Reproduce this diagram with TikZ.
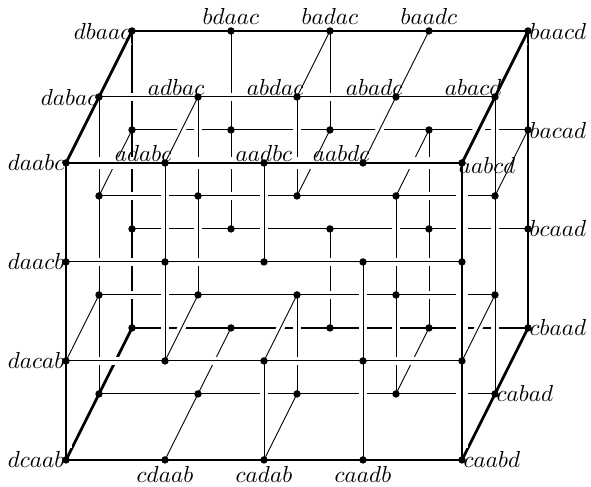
\documentclass[tikz,border=0pt]{standalone}
\usepackage{tikz}
\usetikzlibrary{positioning}

\tikzset{
 edge/.style={line width=0.4pt,preaction={draw=white,line width=3.4pt,shorten >=5pt,shorten <=5pt}},
 rim/.style={line width=1.2pt,preaction={draw=white,line width=4.8pt,shorten >=5pt,shorten <=5pt}},
 rimif/.code={\ifnum#1=1 \pgfkeysalso{rim}\fi},
 vtx/.style={circle,fill,inner sep=0pt,minimum size=3.2pt},
 word/.style={inner sep=0.5pt},
 wordout/.style={inner sep=2.5pt}
}

% one layer of the grid: rows (move of d) and columns (move of c)
\newcommand{\gridplane}[1]{%
 \foreach \j in {0,...,3}{%
  \foreach \i in {0,...,3}{%
   \pgfmathtruncatemacro\ii{\i+1}%
   \pgfmathtruncatemacro\rf{(#1!=1)&&((\j==0)||(\j==3))}%
   \draw[edge,rimif=\rf] (v\i\j#1) -- (v\ii\j#1);
  }%
 }%
 \foreach \i in {0,...,4}{%
  \foreach \j in {0,1,2}{%
   \pgfmathtruncatemacro\jj{\j+1}%
   \pgfmathtruncatemacro\sw{3-\j}%
   \pgfmathtruncatemacro\rf{(#1!=1)&&((\i==0)||(\i==4))}%
   \ifnum\i=\sw\else\draw[edge,rimif=\rf] (v\i\j#1) -- (v\i\jj#1);\fi
  }%
 }%
}

\begin{document}
\begin{tikzpicture}
\useasboundingbox (0,0) rectangle (8.955,7.379);
% grid points: i = place of d, j = place of c, k = place of b
\foreach \i in {0,...,4}
 \foreach \j in {0,...,3}
  \foreach \k in {0,1,2}
   \coordinate (v\i\j\k) at ({1+1.5*\i+0.5*\k},{4.91-1.5*\j+\k});

% back layer
\gridplane{2}
% between back and middle
\foreach \i in {0,...,4}{%
 \pgfmathtruncatemacro\rf{(\i==0)||(\i==4)}%
 \ifnum\i=1 \else
  \draw[edge,rimif=\rf] (v\i01) -- (v\i02);
  \draw[edge] (v\i11) -- (v\i12);
 \fi
 \ifnum\i=2 \else\draw[edge,rimif=\rf] (v\i31) -- (v\i32);\fi
}
% middle layer
\gridplane{1}
% between middle and front
\foreach \i in {0,...,4}{%
 \pgfmathtruncatemacro\rf{(\i==0)||(\i==4)}%
 \ifnum\i=2 \else\draw[edge,rimif=\rf] (v\i00) -- (v\i01);\fi
 \ifnum\i=3 \else
  \draw[edge] (v\i20) -- (v\i21);
  \draw[edge,rimif=\rf] (v\i30) -- (v\i31);
 \fi
}
% front layer
\gridplane{0}

\foreach \i in {0,...,4}
 \foreach \j in {0,...,3}
  \foreach \k in {0,1,2}
   \node[vtx] (d\i\j\k) at (v\i\j\k) {};

% words on the left
\node[word,anchor=east] (daabc) at (v000) {$daabc$};
\node[word,anchor=east] (daacb) at (v010) {$daacb$};
\node[word,anchor=east] (dacab) at (v020) {$dacab$};
\node[word,anchor=east] (dcaab) at (v030) {$dcaab$};
\node[word,anchor=east] (dabac) at (v001) {$dabac$};
\node[word,anchor=east] (dbaac) at (v002) {$dbaac$};
% words on the right
\node[word,anchor=west,xshift=-2pt,yshift=-1pt] (aabcd) at (v400) {$aabcd$};
\node[word,anchor=west] (caabd) at (v430) {$caabd$};
\node[word,anchor=west] (cabad) at (v431) {$cabad$};
\node[word,anchor=west] (baacd) at (v402) {$baacd$};
\node[word,anchor=west] (bacad) at (v412) {$bacad$};
\node[word,anchor=west] (bcaad) at (v422) {$bcaad$};
\node[word,anchor=west] (cbaad) at (v432) {$cbaad$};
% words on top
\node[wordout,anchor=south] (bdaac) at (v102) {$bdaac$};
\node[wordout,anchor=south] (badac) at (v202) {$badac$};
\node[wordout,anchor=south] (baadc) at (v302) {$baadc$};
\node[word,anchor=south east,xshift=3.5pt] (adbac) at (v101) {$adbac$};
\node[word,anchor=south east,xshift=3.5pt] (abdac) at (v201) {$abdac$};
\node[word,anchor=south east,xshift=3.5pt] (abadc) at (v301) {$abadc$};
\node[word,anchor=south east,xshift=3.5pt] (abacd) at (v401) {$abacd$};
\node[word,anchor=south east,xshift=3.5pt] (adabc) at (v100) {$adabc$};
\node[word,anchor=south] (aadbc) at (v200) {$aadbc$};
\node[word,anchor=south east,xshift=3.5pt] (aabdc) at (v300) {$aabdc$};
% words below
\node[wordout,anchor=north] (cdaab) at (v130) {$cdaab$};
\node[wordout,anchor=north] (cadab) at (v230) {$cadab$};
\node[wordout,anchor=north] (caadb) at (v330) {$caadb$};
\end{tikzpicture}
\end{document}
